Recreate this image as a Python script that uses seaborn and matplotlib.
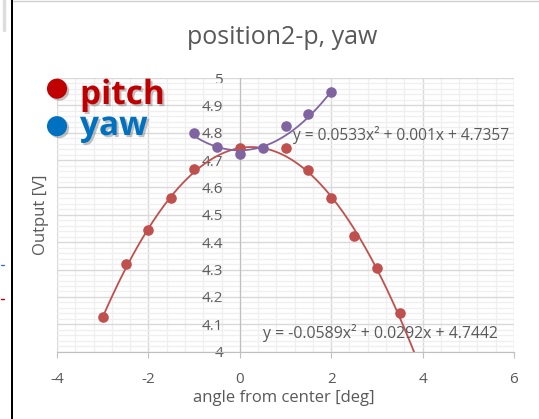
import numpy as np
import pandas as pd
import matplotlib
matplotlib.use("Agg")
import matplotlib.pyplot as plt
import matplotlib.patheffects as pe
from matplotlib.lines import Line2D
from matplotlib.patches import Rectangle
from matplotlib.ticker import MultipleLocator, FuncFormatter
import seaborn as sns

# ---- data ----
pitch_x = [-3, -2.5, -2, -1.5, -1, 0, 1, 1.5, 2, 2.5, 3, 3.5]
pitch_y = [4.125, 4.322, 4.443, 4.561, 4.667, 4.745, 4.745, 4.664, 4.560, 4.424, 4.305, 4.143]
yaw_x = [-1, -0.5, 0, 0.5, 1, 1.5, 2]
yaw_y = [4.800, 4.747, 4.724, 4.745, 4.823, 4.868, 4.948]
pitch_coef = [-0.0589, 0.0292, 4.7442]
yaw_coef = [0.0533, 0.001, 4.7357]
pitch_fit_range = [-3, 4]
yaw_fit_range = [-1, 2]
title = "position2-p, yaw"
xlabel = "angle from center [deg]"
ylabel = "Output [V]"
legend_labels = ["pitch", "yaw"]

sns.set_style("white")
plt.rcParams['font.family'] = ['Open Sans', 'DejaVu Sans']

grey = "#595959"
red = "#C0504D"
purple = "#8064A2"

W, H = 539, 419
fig = plt.figure(figsize=(5.39, 4.19), dpi=100)
ax = fig.add_axes([57/W, 1 - 351.7/H, (514 - 57)/W, (351.7 - 78)/H])

def fit_df(coef, rng):
    xs = np.linspace(rng[0], rng[1], 300)
    return pd.DataFrame({"x": xs, "y": np.polyval(coef, xs)})

pf = fit_df(pitch_coef, pitch_fit_range)
yf = fit_df(yaw_coef, yaw_fit_range)
sns.lineplot(data=pf, x="x", y="y", ax=ax, color=red, lw=1.3, sort=False, zorder=3)
sns.lineplot(data=yf, x="x", y="y", ax=ax, color=purple, lw=1.3, sort=False, zorder=3)

pdf = pd.DataFrame({"x": pitch_x, "y": pitch_y})
ydf = pd.DataFrame({"x": yaw_x, "y": yaw_y})
sns.scatterplot(data=pdf, x="x", y="y", ax=ax, color=red, s=58, edgecolor=red, linewidth=0, zorder=4)
sns.scatterplot(data=ydf, x="x", y="y", ax=ax, color=purple, s=58, edgecolor=purple, linewidth=0, zorder=5)

ax.set_xlim(-4, 6)
ax.set_ylim(4, 5)
ax.xaxis.set_major_locator(MultipleLocator(2))
ax.xaxis.set_minor_locator(MultipleLocator(0.4))
ax.yaxis.set_major_locator(MultipleLocator(0.1))
ax.yaxis.set_minor_locator(MultipleLocator(0.02))
ax.yaxis.set_major_formatter(FuncFormatter(lambda v, p: f"{v:g}" if abs(v - round(v)) > 1e-9 else f"{int(round(v))}"))
ax.xaxis.set_major_formatter(FuncFormatter(lambda v, p: f"{int(round(v))}"))

ax.grid(which="major", color="#D9D9D9", lw=1.0, zorder=0)
ax.grid(which="minor", color="#EFEFEF", lw=0.9, zorder=0)
ax.set_axisbelow(True)

for s in ["top", "right"]:
    ax.spines[s].set_visible(False)
ax.spines["left"].set_position(("data", 0))
ax.spines["left"].set_color("#BFBFBF")
ax.spines["bottom"].set_color("#BFBFBF")
ax.spines["left"].set_zorder(1)

ax.tick_params(axis="x", which="major", length=4, color="#BFBFBF", pad=10.5,
               labelsize=11, labelcolor=grey, direction="out", bottom=True)
ax.tick_params(axis="y", which="major", length=0, pad=12, labelsize=11, labelcolor=grey, left=True)
ax.tick_params(which="minor", length=0)

ax.set_xlabel("")
ax.set_ylabel("")
fig.text(284/W, 1 - 398/H, xlabel, ha="center", va="center", fontsize=12, color=grey)
fig.text(41/W, 1 - 215/H, ylabel, ha="center", va="center", rotation=90, fontsize=12, color=grey)
fig.text(282.5/W, 1 - 38/H, title, ha="center", va="center", fontsize=18, color=grey)

def eq_text(c):
    def fmt(v):
        return f"{abs(v):g}"
    s = "y = "
    s += ("-" if c[0] < 0 else "") + fmt(c[0]) + "x²"
    s += (" - " if c[1] < 0 else " + ") + fmt(c[1]) + "x"
    s += (" - " if c[2] < 0 else " + ") + fmt(c[2])
    return s

ax.text(1.16, 4.791, eq_text(yaw_coef), ha="left", va="center", fontsize=11.2, color=grey, zorder=6)
ax.text(0.50, 4.067, eq_text(pitch_coef), ha="left", va="center", fontsize=11.4, color=grey, zorder=6)

# legend-like labels
sh = [pe.withSimplePatchShadow(offset=(1.5, -1.5), shadow_rgbFace="#666666", alpha=0.4)]
leg_colors = ["#C00000", "#0070C0"]
dot_y = [88.5, 126]
base_y = [104, 135]
for lab, col, dy, by in zip(legend_labels, leg_colors, dot_y, base_y):
    fig.text(57/W, 1 - dy/H, "●", ha="center", va="center", fontsize=19, color=col,
             family="DejaVu Sans", path_effects=sh)
    fig.text(80/W, 1 - by/H, lab, ha="left", va="baseline", fontsize=24, fontweight="bold",
             color=col, path_effects=sh)

# window frame bits
fig.add_artist(Rectangle((10.7/W, 0), 2.0/W, 1, transform=fig.transFigure, color="black", lw=0))
fig.add_artist(Line2D([13/W, 1], [1 - 1.5/H, 1 - 1.5/H], color="#D0D0D0", lw=1))
fig.add_artist(Line2D([4/W, 4/W], [1, 1 - 30/H], color="#DDDDDD", lw=2.5))
fig.add_artist(Line2D([1/W, 4/W], [1 - 265/H, 1 - 265/H], color="#4472C4", lw=1))
fig.add_artist(Line2D([1/W, 4/W], [1 - 299/H, 1 - 299/H], color="#C00000", lw=1))

fig.savefig("out.png", dpi=100)
